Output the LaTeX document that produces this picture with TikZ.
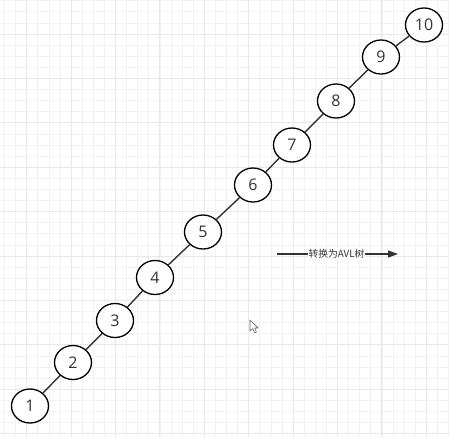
\documentclass[tikz,border=0pt]{standalone}
\usepackage{fontspec}
\setmainfont{Open Sans}
\newfontfamily\cjk{Noto Sans CJK SC}
\usetikzlibrary{arrows.meta,shapes.geometric}
\definecolor{gridminor}{HTML}{F2F2F2}
\definecolor{gridmajor}{HTML}{E8E8E8}
\definecolor{edgecol}{HTML}{333333}
\tikzset{
  treenode/.style={ellipse, draw=black, line width=1.3pt, fill=white,
    minimum width=37pt, minimum height=34pt, inner sep=0pt,
    font=\fontsize{16}{17}\selectfont, text=black!80},
  treeedge/.style={draw=edgecol, line width=1.4pt},
}
\begin{document}
\begin{tikzpicture}[x=1pt,y=-1pt]
\useasboundingbox (0,0) rectangle (449,437);
\fill[white] (0,0) rectangle (449,437);
% grid
\foreach \i in {0,...,40} {
  \pgfmathsetmacro\gx{4.5+11.1*\i}
  \draw[gridminor, line width=0.8pt] (\gx,0) -- (\gx,437);
}
\foreach \j in {0,...,39} {
  \pgfmathsetmacro\gy{0.7+11.1*\j}
  \draw[gridminor, line width=0.8pt] (0,\gy) -- (449,\gy);
}
\foreach \i in {0,...,9} {
  \pgfmathsetmacro\gx{26.7+44.4*\i}
  \draw[gridmajor, line width=0.9pt] (\gx,0) -- (\gx,437);
}
\foreach \j in {0,...,9} {
  \pgfmathsetmacro\gy{34+44.4*\j}
  \draw[gridmajor, line width=0.9pt] (0,\gy) -- (449,\gy);
}
% nodes
\node[treenode] (n1) at (30,406) {1};
\node[treenode] (n2) at (73,362.5) {2};
\node[treenode] (n3) at (115,320.5) {3};
\node[treenode] (n4) at (155,277.5) {4};
\node[treenode] (n5) at (203,232) {5};
\node[treenode] (n6) at (253,185) {6};
\node[treenode] (n7) at (292,145) {7};
\node[treenode] (n8) at (336,101) {8};
\node[treenode] (n9) at (381,57) {9};
\node[treenode] (n10) at (424,25) {10};
% edges
\foreach \a/\b in {n1/n2,n2/n3,n3/n4,n4/n5,n5/n6,n6/n7,n7/n8,n8/n9,n9/n10}
  \draw[treeedge] (\a) -- (\b);
% arrow with label
\coordinate (as) at (277,254);
\coordinate (ae) at (398,254);
\draw[edgecol, line width=1.2pt, -{Triangle[length=10pt,width=7pt]}] (as) -- (ae)
  node[midway, fill=white, inner sep=1pt, font=\cjk\fontsize{9.8}{11}\selectfont, text=black!80, xshift=-1pt] (lbl) {转换为AVL树};
% cursor
\draw[black!60, fill=white, line width=0.6pt, line join=round]
  (250,320) -- (250,331) -- (252.8,328.6) -- (254.6,332.8) -- (256.4,332) -- (254.7,328) -- (258.2,328) -- cycle;
\end{tikzpicture}
\end{document}
